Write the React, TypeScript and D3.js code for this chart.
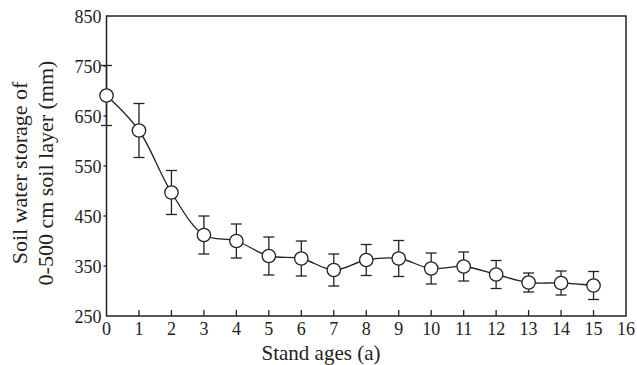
import React from "react";
import * as d3 from "d3";

const ages = [0, 1, 2, 3, 4, 5, 6, 7, 8, 9, 10, 11, 12, 13, 14, 15];
const storage = [691, 621, 497, 412, 400, 370, 365, 342, 362, 365, 345, 349, 333, 317, 316, 311];
const errors = [60, 54, 44, 38, 34, 38, 35, 32, 31, 36, 31, 29, 28, 19, 24, 28];
const xTicks = [0, 1, 2, 3, 4, 5, 6, 7, 8, 9, 10, 11, 12, 13, 14, 15, 16];
const yTicks = [250, 350, 450, 550, 650, 750, 850];

const W = 637;
const H = 365;
const left = 106.5;
const right = 626;
const top = 16;
const bottom = 316;
const font = "Liberation Serif, DejaVu Serif, Times New Roman, serif";
const ink = "#222";

export default function App() {
  const x = d3.scaleLinear().domain([0, 16]).range([left, right]);
  const y = d3.scaleLinear().domain([250, 850]).range([bottom, top]);
  const pts = ages.map((a, i) => [x(a), y(storage[i])] as [number, number]);
  const line = d3.line().curve(d3.curveCatmullRom.alpha(0.5))(pts) || "";
  const cap = 5.5;
  const txt = { fontFamily: font, fill: ink } as React.CSSProperties;
  return (
    <svg width={W} height={H} style={{ position: "absolute", left: 0, top: 0, background: "#fff" }}>
      <rect x={left} y={top} width={right - left} height={bottom - top} fill="none" stroke={ink} strokeWidth={1.5} />
      {xTicks.map((t) => (
        <g key={"xt" + t}>
          {t > 0 && t < 16 && (
            <line x1={x(t)} x2={x(t)} y1={bottom} y2={bottom - 6} stroke={ink} strokeWidth={1.3} />
          )}
          <text x={x(t)} y={bottom + 19} textAnchor="middle" style={{ ...txt, fontSize: 18 }}>
            {t}
          </text>
        </g>
      ))}
      {yTicks.map((t) => (
        <g key={"yt" + t}>
          {t > 250 && t < 850 && (
            <line x1={left} x2={left - 3} y1={y(t)} y2={y(t)} stroke={ink} strokeWidth={1.3} />
          )}
          <text x={101.5} y={y(t) + 6.5} textAnchor="end" style={{ ...txt, fontSize: 18 }}>
            {t}
          </text>
        </g>
      ))}
      <path d={line} fill="none" stroke={ink} strokeWidth={1.3} />
      {ages.map((a, i) => {
        const cx = x(a);
        const y1 = y(storage[i] + errors[i]);
        const y2 = y(storage[i] - errors[i]);
        return (
          <g key={"e" + i} stroke={ink} strokeWidth={1.3}>
            <line x1={cx} x2={cx} y1={y1} y2={y2} />
            <line x1={cx - cap} x2={cx + cap} y1={y1} y2={y1} />
            <line x1={cx - cap} x2={cx + cap} y1={y2} y2={y2} />
          </g>
        );
      })}
      {pts.map(([px, py], i) => (
        <circle key={"p" + i} cx={px} cy={py} r={6.7} fill="#fff" stroke={ink} strokeWidth={1.3} />
      ))}
      <text x={321} y={360} textAnchor="middle" style={{ ...txt, fontSize: 21 }}>
        Stand ages (a)
      </text>
      <text transform="translate(27,173) rotate(-90)" textAnchor="middle" style={{ ...txt, fontSize: 22 }}>
        Soil water storage of
      </text>
      <text transform="translate(53,173) rotate(-90)" textAnchor="middle" style={{ ...txt, fontSize: 22 }}>
        0-500 cm soil layer (mm)
      </text>
    </svg>
  );
}
